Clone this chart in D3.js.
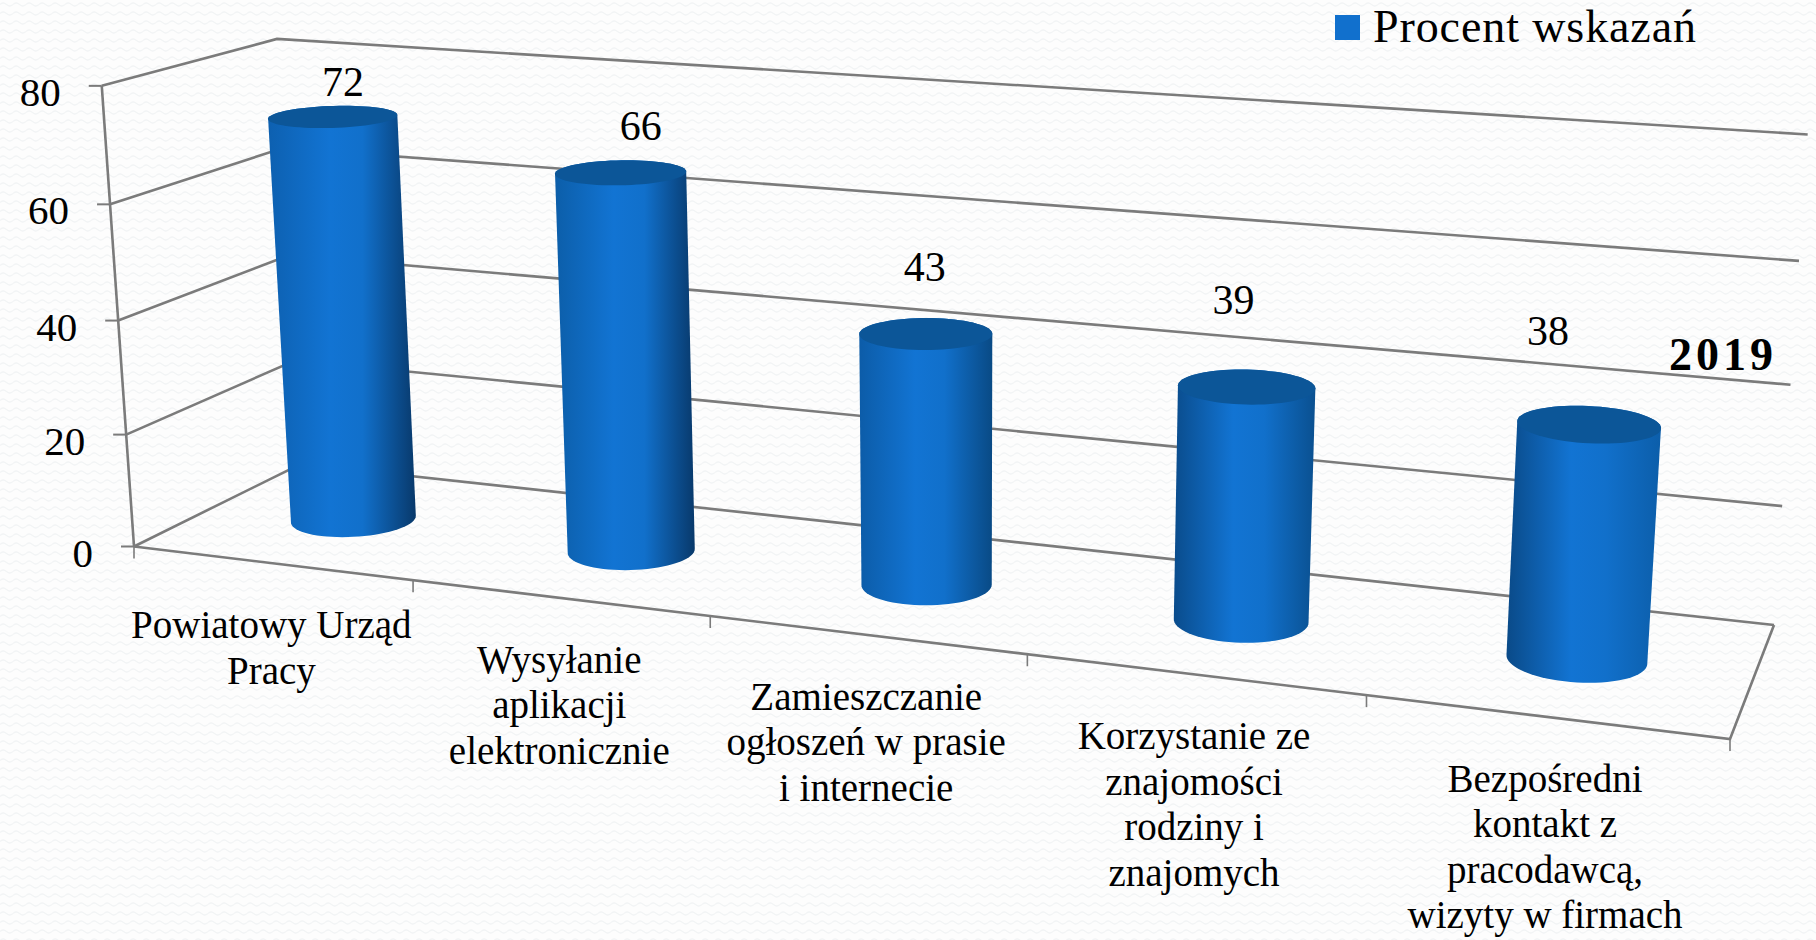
<!DOCTYPE html>
<html><head><meta charset="utf-8">
<script src="https://cdn.jsdelivr.net/npm/d3@7"></script>
<style>html,body{margin:0;padding:0;background:#fff}svg{display:block}text{font-family:"Liberation Serif",serif;fill:#000}</style>
</head><body><svg id="c" width="1816" height="940"></svg>
<script>
const categories=[["Powiatowy Urząd","Pracy"],["Wysyłanie","aplikacji","elektronicznie"],["Zamieszczanie","ogłoszeń w prasie","i internecie"],["Korzystanie ze","znajomości","rodziny i","znajomych"],["Bezpośredni","kontakt z","pracodawcą,","wizyty w firmach"]];
const values=[72,66,43,39,38];
const valueTicks=[0,20,40,60,80];
const seriesName="Procent wskazań";
const yearLabel="2019";

// layout: the corners of the 3D box on screen
const FLB=[134,546.5],FRB=[1730,739],BRB=[1774,625],BLB=[300.6,464],FLT=[103.6,87],BLT=[275,40],BRT=[1808,132];
const labelOffset=[[10,-35],[20,-47],[-1,-67],[-13,-87],[-41,-93]];
const leftEdge=["#0d60b0","#0c5ea9","#0c5ca8","#0a4c8c","#0a4a88"];
const rightEdge=["#08396b","#08396b","#094a85","#0a5090","#0c5eaa"];

const svg=d3.select("#c");
const defs=svg.append("defs");
const pat=defs.append("pattern").attr("id","bg").attr("width",13).attr("height",9).attr("patternUnits","userSpaceOnUse");
pat.append("path").attr("d","M0 4.5Q3.25 1.5 6.5 4.5T13 4.5").attr("fill","none").attr("stroke","#f2f4f5").attr("stroke-width",1.2);
svg.append("rect").attr("width",1816).attr("height",940).attr("fill","#fdfdfd");
svg.append("rect").attr("width",1816).attr("height",940).attr("fill","url(#bg)");

// projective camera fitted to the corners
function floorH(p0,p1,p2,p3){
 const [x0,y0]=p0,[x1,y1]=p1,[x2,y2]=p2,[x3,y3]=p3;
 const dx1=x1-x2,dx2=x3-x2,sx=x0-x1+x2-x3,dy1=y1-y2,dy2=y3-y2,sy=y0-y1+y2-y3;
 const den=dx1*dy2-dx2*dy1,g=(sx*dy2-dx2*sy)/den,h=(dx1*sy-sx*dy1)/den;
 return {cu:[x1-x0+g*x1,y1-y0+g*y1,g],cw:[x3-x0+h*x3,y3-y0+h*y3,h],c0:[x0,y0,1]};
}
const {cu,cw,c0}=floorH(FLB,FRB,BRB,BLB);
function fitV(){
 const cons=[[0,0,FLT],[0,1,BLT],[1,1,BRT]],A=[[0,0,0],[0,0,0],[0,0,0]],B=[0,0,0];
 cons.forEach(([u,w,[X,Y]])=>{
  const b=[0,1,2].map(k=>c0[k]+u*cu[k]+w*cw[k]);
  [[[1,0,-X],X*b[2]-b[0]],[[0,1,-Y],Y*b[2]-b[1]]].forEach(([r,t])=>{
   for(let i=0;i<3;i++){B[i]+=r[i]*t;for(let j=0;j<3;j++)A[i][j]+=r[i]*r[j];}
  });
 });
 const det=m=>m[0][0]*(m[1][1]*m[2][2]-m[1][2]*m[2][1])-m[0][1]*(m[1][0]*m[2][2]-m[1][2]*m[2][0])+m[0][2]*(m[1][0]*m[2][1]-m[1][1]*m[2][0]);
 const D=det(A);
 return [0,1,2].map(c=>det(A.map((row,i)=>row.map((v,j)=>j===c?B[i]:v)))/D);
}
const cv=fitV();
const yScale=d3.scaleLinear().domain([0,80]).range([0,1]);
const xScale=d3.scaleLinear().domain([0,categories.length]).range([0,1]);
function proj(cat,w,val){
 const u=xScale(cat),v=yScale(val);
 const p=[0,1,2].map(k=>c0[k]+u*cu[k]+w*cw[k]+v*cv[k]);
 return [p[0]/p[2],p[1]/p[2]];
}
const gridColor="#7b7b7b";
const line=d3.line();
function stroke(pts,sw=2.6){svg.append("path").attr("d",line(pts)).attr("fill","none").attr("stroke",gridColor).attr("stroke-width",sw);}
const nCat=categories.length;
// gridlines on side and back walls
valueTicks.forEach(t=>stroke([proj(0,0,t),proj(0,1,t),proj(nCat,1,t)]));
// floor, left edge
stroke([proj(0,0,0),proj(nCat,0,0),proj(nCat,1,0)]);
stroke([proj(0,0,0),proj(0,0,80)]);
// ticks and value labels
valueTicks.forEach(t=>{
 const [x,y]=proj(0,0,t);
 stroke([[x-13,y],[x,y]],2);
 svg.append("text").attr("x",x-41).attr("y",y+20).attr("text-anchor","end").attr("font-size",41).text(t);
});
d3.range(nCat+1).forEach(i=>{
 const [x,y]=proj(i,0,0);
 stroke([[x,y],[x,y+12]],1.6);
});
// cylinders
const bandPos=.5, radU=.2, radW=.2;
function ring(cat,val){
 return d3.range(0,72).map(k=>{
  const a=k/72*2*Math.PI;
  return proj(cat+radU*Math.cos(a),bandPos+radW*Math.sin(a),val);
 });
}
values.forEach((val,i)=>{
 const cat=i+.5,top=ring(cat,val),bot=ring(cat,0),hull=d3.polygonHull(top.concat(bot));
 const xs=hull.map(p=>p[0]),x0=d3.min(xs),x1=d3.max(xs);
 const gid="g"+i,g=defs.append("linearGradient").attr("id",gid).attr("gradientUnits","userSpaceOnUse").attr("x1",x0).attr("x2",x1).attr("y1",0).attr("y2",0);
 [[0,leftEdge[i]],[.42,"#1274d3"],[.64,"#1170cb"],[1,rightEdge[i]]].forEach(([o,c])=>g.append("stop").attr("offset",o).attr("stop-color",c));
 svg.append("path").attr("d",line(hull)+"Z").attr("fill",`url(#${gid})`);
 svg.append("path").attr("d",line(top)+"Z").attr("fill","#0c5698");
 const [tx,ty]=proj(cat,bandPos,val),[ox,oy]=labelOffset[i];
 svg.append("text").attr("x",tx+ox).attr("y",ty+oy+14).attr("text-anchor","middle").attr("font-size",42).text(val);
});
// category labels
categories.forEach((lines,i)=>{
 const [x,y]=proj(i+.5,0,0);
 const t=svg.append("text").attr("text-anchor","middle").attr("font-size",39);
 lines.forEach((s,k)=>t.append("tspan").attr("x",x).attr("y",y+75+k*45.5).text(s));
});
// legend and year
svg.append("rect").attr("x",1335).attr("y",15).attr("width",25).attr("height",25).attr("fill","#1170cd");
svg.append("text").attr("x",1373).attr("y",41.5).attr("font-size",46).attr("letter-spacing",.9).text(seriesName);
svg.append("text").attr("x",1669).attr("y",370).attr("font-size",46).attr("font-weight","bold").attr("letter-spacing",4).text(yearLabel);
</script></body></html>
